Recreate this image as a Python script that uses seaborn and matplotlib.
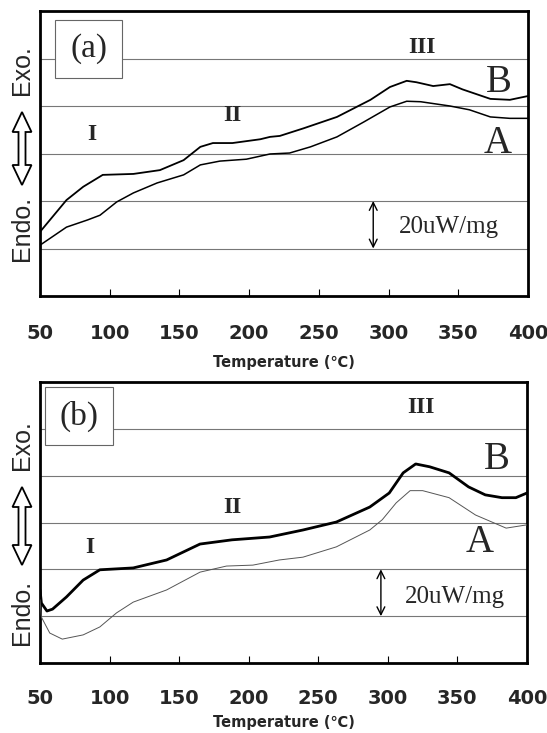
import numpy as np
import pandas as pd
import matplotlib
matplotlib.use("Agg")
import matplotlib.pyplot as plt
import matplotlib.patches as mpatches
import seaborn as sns

# DSC traces, panel (a)
temp_a_B = [50, 69, 81, 95, 117, 136, 153, 165, 174, 188, 208, 215, 222, 239, 263,
            287, 301, 313, 320, 332, 344, 353, 363, 373, 387, 400]
heat_a_B = [1.35, 2.02, 2.30, 2.55, 2.57, 2.65, 2.86, 3.14, 3.22, 3.22, 3.30, 3.35, 3.37,
            3.53, 3.77, 4.13, 4.40, 4.53, 4.50, 4.42, 4.46, 4.35, 4.25, 4.15, 4.13, 4.21]
temp_a_A = [50, 69, 84, 93, 105, 117, 134, 153, 165, 179, 198, 215, 229, 244, 263,
            282, 301, 313, 323, 344, 358, 373, 387, 400]
heat_a_A = [1.07, 1.45, 1.60, 1.70, 1.98, 2.17, 2.38, 2.55, 2.76, 2.84, 2.88, 2.99, 3.01,
            3.14, 3.35, 3.66, 3.98, 4.10, 4.09, 4.00, 3.92, 3.77, 3.74, 3.74]

# DSC traces, panel (b)
temp_b_B = [50, 51, 55, 59, 69, 81, 93, 117, 141, 153, 165, 188, 215, 239, 263,
            287, 301, 311, 320, 330, 344, 358, 370, 382, 392, 400]
heat_b_B = [1.56, 1.28, 1.11, 1.15, 1.41, 1.77, 1.99, 2.03, 2.20, 2.37, 2.54, 2.63, 2.69,
            2.84, 3.01, 3.33, 3.63, 4.06, 4.25, 4.19, 4.06, 3.76, 3.59, 3.53, 3.53, 3.63]
temp_b_A = [50, 51, 57, 66, 81, 93, 105, 117, 141, 165, 184, 203, 222, 239, 263,
            287, 296, 306, 316, 325, 344, 363, 385, 400]
heat_b_A = [1.35, 0.98, 0.64, 0.51, 0.60, 0.77, 1.07, 1.30, 1.56, 1.94, 2.07, 2.09, 2.20,
            2.26, 2.48, 2.84, 3.06, 3.42, 3.68, 3.68, 3.53, 3.16, 2.88, 2.95]

x_ticks = [50, 100, 150, 200, 250, 300, 350, 400]
grid_levels = [1, 2, 3, 4, 5]

sns.set_theme(style="white")
plt.rcParams["font.family"] = ["DejaVu Sans"]

fig = plt.figure(figsize=(5.47, 7.33), dpi=100)
W, H = 547, 733


def px_axes(left, top, right, bottom):
    return fig.add_axes([left / W, 1 - bottom / H, (right - left) / W, (bottom - top) / H])


ax_a = px_axes(40, 11, 528, 296)
ax_b = px_axes(40, 382, 527, 663)

panels = [
    (ax_a, "(a)", (0.031, 0.765, 0.137, 0.204),
     (temp_a_B, heat_a_B, 1.3, "black"), (temp_a_A, heat_a_A, 1.1, "black"),
     [("I", 87, 3.39), ("II", 188, 3.81), ("III", 324, 5.24)],
     (379, 4.50), (378, 3.22), 289, (343, 1.45), 20, 9),
    (ax_b, "(b)", (0.0103, 0.776, 0.14, 0.206),
     (temp_b_B, heat_b_B, 2.0, "black"), (temp_b_A, heat_b_A, 0.7, "#555555"),
     [("I", 86, 2.46), ("II", 188, 3.33), ("III", 324, 5.45)],
     (378, 4.34), (366, 2.58), 295, (348, 1.41), 19, 5),
]

for ax, tag, box, cb, ca, numerals, posB, posA, arr_x, scale_pos, tpad, lpad in panels:
    for y in grid_levels:
        ax.axhline(y, color="#777777", lw=0.8, zorder=1)
    sns.lineplot(x=cb[0], y=cb[1], ax=ax, color=cb[3], lw=cb[2], zorder=3)
    sns.lineplot(x=ca[0], y=ca[1], ax=ax, color=ca[3], lw=ca[2], zorder=3)
    ax.set_xlim(50, 400)
    ax.set_ylim(0, 6)
    ax.set_yticks([])
    ax.set_xticks(x_ticks)
    ax.set_xticklabels([str(t) for t in x_ticks], fontsize=14, fontweight="bold")
    ax.tick_params(axis="x", direction="in", length=5, width=0.8, pad=tpad,
                   bottom=True, color="black")
    ax.set_xlabel("Temperature (℃)", fontsize=10.5, fontweight="bold", labelpad=lpad)
    ax.set_ylabel("")
    for s in ax.spines.values():
        s.set_color("black")
        s.set_linewidth(2)

    rect = mpatches.Rectangle(box[:2], box[2], box[3], transform=ax.transAxes,
                              facecolor="white", edgecolor="#666666", lw=0.8, zorder=4)
    ax.add_patch(rect)
    ax.text(box[0] + box[2] / 2, box[1] + box[3] / 2, tag, transform=ax.transAxes,
            ha="center", va="center", fontsize=24, family="Liberation Serif", zorder=5)

    for txt, x, y in numerals:
        ax.text(x, y, txt, ha="center", va="center", fontsize=17, fontweight="bold",
                family="Liberation Serif", zorder=5)
    ax.text(*posB, "B", ha="center", va="center", fontsize=28, family="Liberation Serif", zorder=5)
    ax.text(*posA, "A", ha="center", va="center", fontsize=28, family="Liberation Serif", zorder=5)

    ax.annotate("", xy=(arr_x, 2), xytext=(arr_x, 1),
                arrowprops=dict(arrowstyle="<->", lw=1.0, color="black",
                                shrinkA=0, shrinkB=0, mutation_scale=14), zorder=5)
    ax.text(*scale_pos, "20uW/mg", ha="center", va="center", fontsize=18,
            family="Liberation Serif", zorder=5)


def hollow_darrow(cx, y_top, y_bot):
    sh, hw, hl = 3.5, 9.5, 20
    pts = [(cx, y_top), (cx + hw, y_top + hl), (cx + sh, y_top + hl), (cx + sh, y_bot - hl),
           (cx + hw, y_bot - hl), (cx, y_bot), (cx - hw, y_bot - hl), (cx - sh, y_bot - hl),
           (cx - sh, y_top + hl), (cx - hw, y_top + hl)]
    pts = [(x / W, 1 - y / H) for x, y in pts]
    fig.patches.append(mpatches.Polygon(pts, closed=True, transform=fig.transFigure,
                                        facecolor="white", edgecolor="black", lw=1.3))


for exo_y, arr_top, arr_bot, endo_y in [(70, 112, 185, 228), (445, 487, 565, 612)]:
    fig.text(22 / W, 1 - exo_y / H, "Exo.", rotation=90, ha="center", va="center",
             fontsize=18, family="Liberation Sans")
    hollow_darrow(22, arr_top, arr_bot)
    fig.text(22 / W, 1 - endo_y / H, "Endo.", rotation=90, ha="center", va="center",
             fontsize=18, family="Liberation Sans")

fig.savefig("out.png", dpi=100)
